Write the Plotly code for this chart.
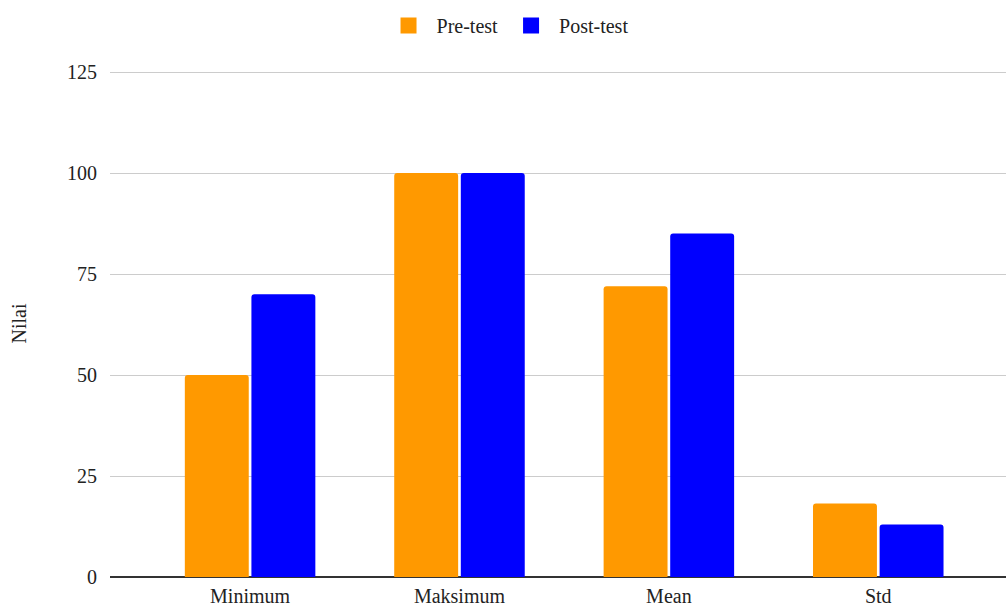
import plotly.graph_objects as go

categories = ["Minimum", "Maksimum", "Mean", "Std"]
pre_test = [50, 100, 72, 18.2]
post_test = [70, 100, 85, 13.0]
series_names = ["Pre-test", "Post-test"]
colors = ["#ff9900", "#0000ff"]
y_ticks = [0, 25, 50, 75, 100, 125]

FONT = "Liberation Serif"

fig = go.Figure()
for name, vals, col in zip(series_names, [pre_test, post_test], colors):
    fig.add_trace(go.Bar(
        x=categories, y=vals, name=name, marker_color=col,
        marker_line_width=0, showlegend=False,
    ))
for name, col in zip(series_names, colors):
    fig.add_trace(go.Scatter(
        x=[None], y=[None], mode="markers", name=name,
        marker=dict(symbol="square", size=16, color=col),
    ))

fig.update_layout(
    width=1006, height=609,
    margin=dict(l=110, r=0, t=70, b=32),
    paper_bgcolor="white", plot_bgcolor="white",
    font=dict(family=FONT, size=20, color="#222222"),
    barmode="group", bargap=0.364, bargroupgap=0.04,
    barcornerradius=3,
    legend=dict(orientation="h", x=0.504, xanchor="center", xref="container",
                y=0.99, yanchor="top", yref="container",
                font=dict(size=20, family=FONT),
                itemwidth=46, traceorder="normal"),
    xaxis=dict(
        range=[-0.669, 3.61], showgrid=False, ticks="", showline=False,
        tickfont=dict(size=20, family=FONT), ticklabelstandoff=5,
        automargin=False,
    ),
    yaxis=dict(
        range=[0, 125.5], tickvals=y_ticks, showgrid=True, gridcolor="#cccccc",
        gridwidth=1, zeroline=True, zerolinecolor="#333333", zerolinewidth=1.5,
        showline=False, ticks="", ticklabelstandoff=12, automargin=False,
        tickfont=dict(size=20, family=FONT),
        title=dict(text="Nilai", font=dict(size=20, family=FONT), standoff=35),
    ),
)

fig.write_html("out.html")
